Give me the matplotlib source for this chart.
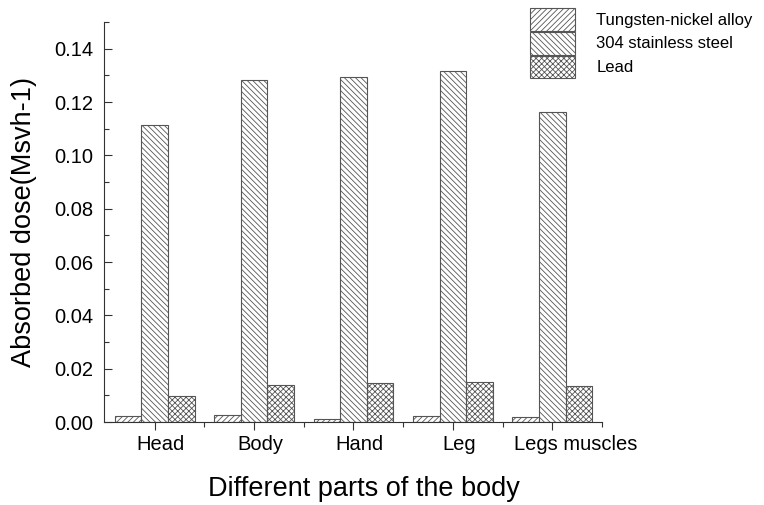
import numpy as np
import matplotlib.pyplot as plt
import matplotlib.transforms as mtransforms
from matplotlib.ticker import MultipleLocator, FixedLocator

plt.rcParams['font.family'] = ['Liberation Sans', 'DejaVu Sans']
plt.rcParams['hatch.linewidth'] = 0.6

# dose per body part for each shielding material
parts = ["Head", "Body", "Hand", "Leg", "Legs muscles"]
tungsten = [0.0022, 0.0025, 0.0010, 0.0022, 0.0018]
steel = [0.1112, 0.1282, 0.1293, 0.1316, 0.1163]
lead = [0.0097, 0.0138, 0.0146, 0.0150, 0.0136]
series = ["Tungsten-nickel alloy", "304 stainless steel", "Lead"]

fig = plt.figure(figsize=(7.64, 5.05), dpi=100)
ax = fig.add_axes([104/764, 1-422/505, (602-104)/764, 400/505])

x = np.arange(len(parts))
w = 0.267
hatches = ['//////', '\\\\\\\\\\\\', 'xxxxxx']
bars = []
for i, (vals, h) in enumerate(zip([tungsten, steel, lead], hatches)):
    b = ax.bar(x + (i-1)*w, vals, w, color='white', edgecolor='#555555',
               hatch=h, linewidth=0.8, label=series[i])
    bars.append(b)

ax.set_xlim(-0.51, 4.5)
ax.set_ylim(0, 0.15)
ax.set_xticks(x)
ax.set_xticklabels(parts, fontsize=14.5)
ax.xaxis.set_minor_locator(FixedLocator(x + 0.5))
ax.yaxis.set_minor_locator(MultipleLocator(0.01))
ax.set_yticks(np.arange(0, 0.141, 0.02))
ax.set_yticklabels(["%.2f" % v for v in np.arange(0, 0.141, 0.02)], fontsize=14.5)
ax.tick_params(axis='y', which='both', direction='in', pad=8)
ax.tick_params(axis='x', which='both', direction='out', pad=3)
ax.tick_params(which='major', length=6, width=0.8, color='#333333')
ax.tick_params(which='minor', length=3.5, width=0.8, color='#333333')
ax.spines['top'].set_visible(False)
ax.spines['right'].set_visible(False)
for s in ['left', 'bottom']:
    ax.spines[s].set_linewidth(0.8)
    ax.spines[s].set_color('#333333')

# category labels sit slightly right of their ticks
for lbl, dx in zip(ax.get_xticklabels(), [6, 6, 6, 6, 23]):
    lbl.set_transform(lbl.get_transform() +
                      mtransforms.ScaledTranslation(dx/100, 0, fig.dpi_scale_trans))

ax.set_xlabel("Different parts of the body", fontsize=19.5, labelpad=16)
ax.xaxis.label.set_x(0.5 + 11/498)
ax.set_ylabel("Absorbed dose(Msvh-1)", fontsize=19.5, labelpad=12)

fig.legend(handles=bars, labels=series, loc='upper left',
           bbox_to_anchor=(518/764, 1+4/505), frameon=False, fontsize=12,
           handlelength=2.7, handleheight=1.74, labelspacing=0.06,
           handletextpad=1.3, borderpad=0.2)

fig.savefig("out.png", dpi=100)
